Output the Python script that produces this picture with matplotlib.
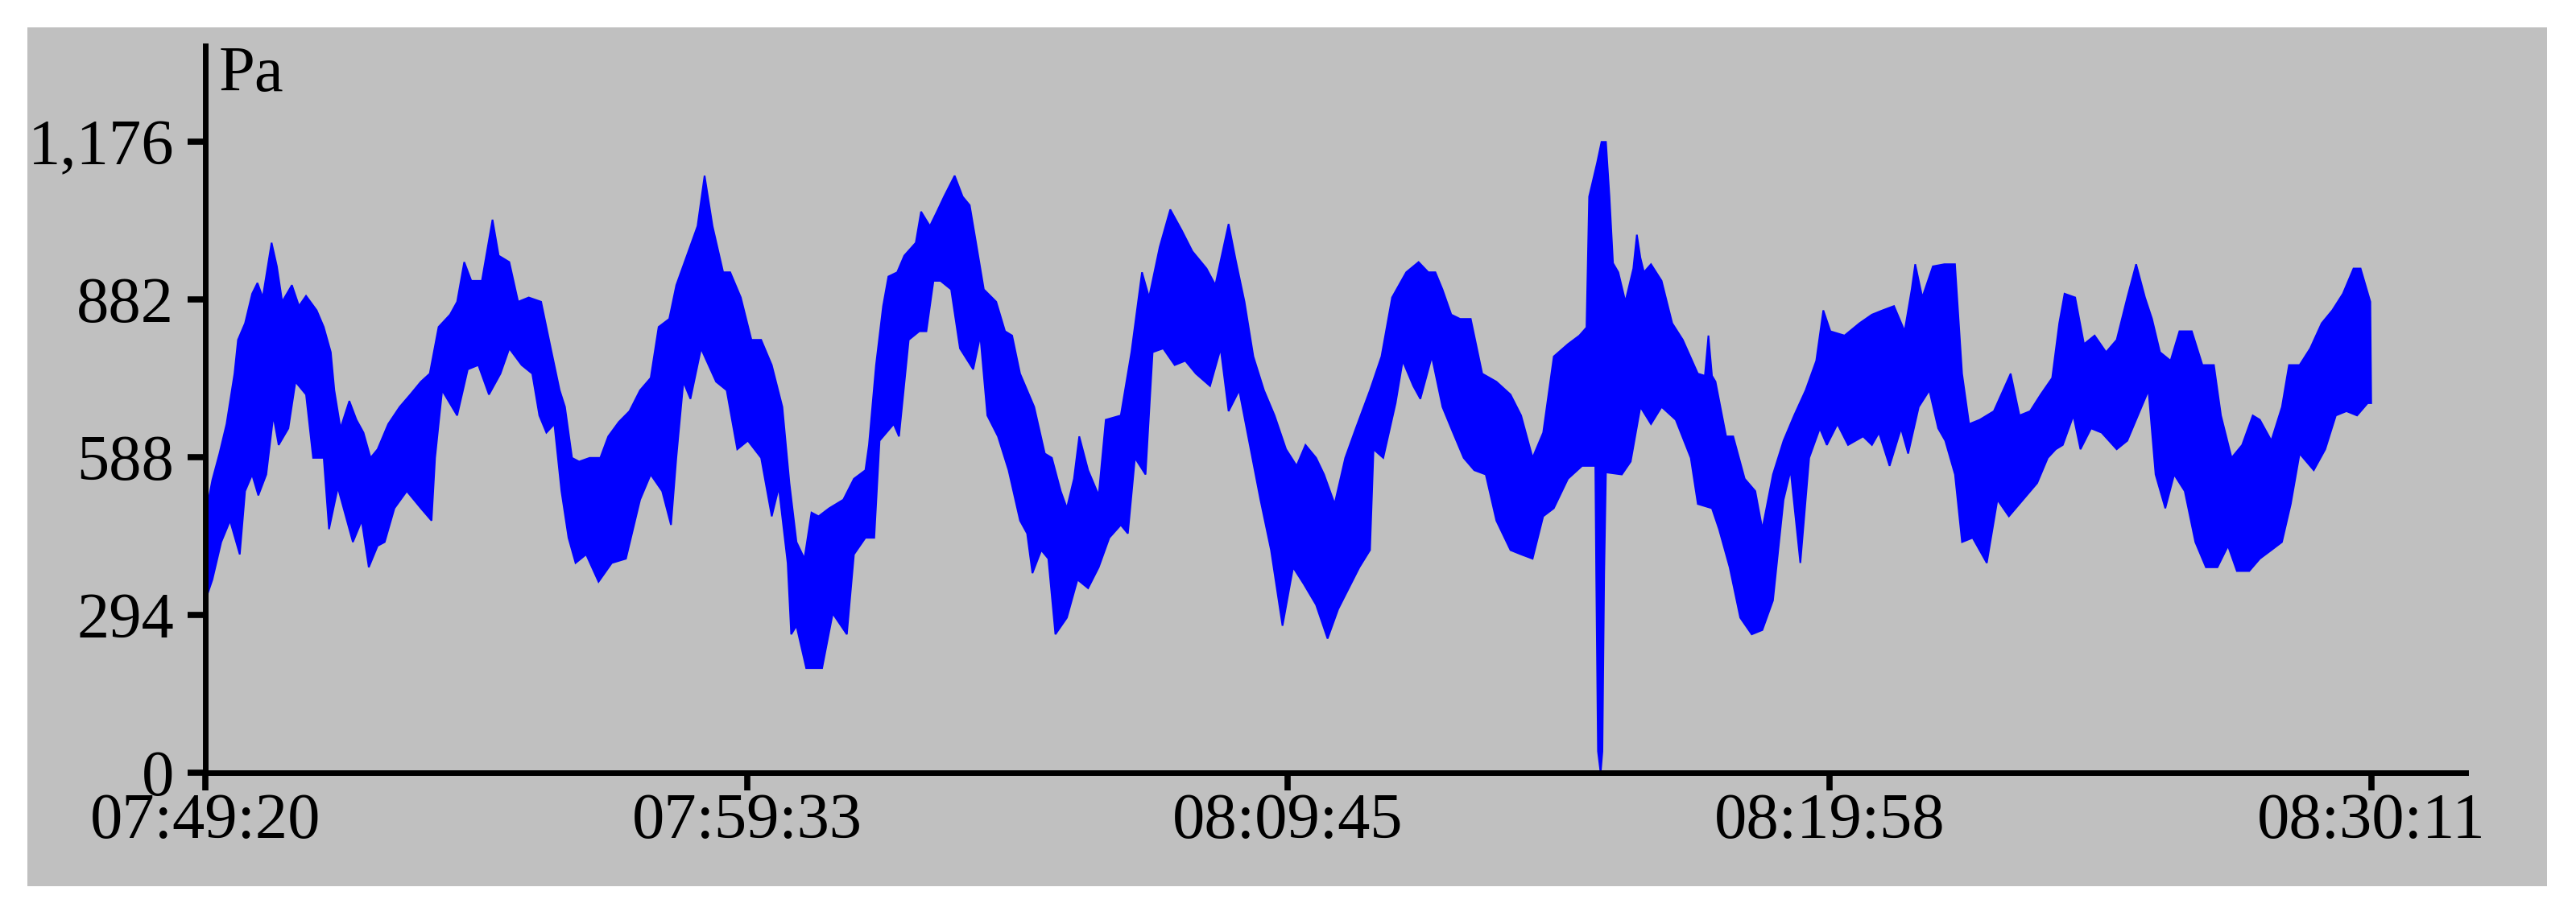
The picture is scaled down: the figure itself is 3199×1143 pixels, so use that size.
import numpy as np
import matplotlib
matplotlib.use('Agg')
import matplotlib.pyplot as plt
from matplotlib.patches import Rectangle

# ---- data: pressure band (Pa), time in s from 07:49:20 ----
upper_t = [0, 8, 16, 24, 33, 37, 45, 53, 59, 65, 75, 81, 87, 98, 106, 114, 126, 134, 142, 146,
           153, 163, 171, 179, 187, 195, 207, 220, 232, 244, 254, 264, 277, 285, 293, 301, 313,
           325, 332, 344, 354, 366, 380, 391, 401, 407, 415, 423, 435, 447, 456, 468, 480, 492,
           504, 513, 525, 533, 545, 557, 565, 574, 586, 594, 606, 618,
           629, 641, 653, 661, 669, 678, 686, 694, 706, 722, 734, 747, 751, 759, 767, 773, 783,
           791, 804, 810, 820, 828, 836, 848, 857, 865, 873, 881, 895, 905, 913, 922, 938, 950,
           958, 968, 975, 983, 989, 999, 1011, 1019, 1036, 1048, 1060, 1068, 1080, 1092, 1105,
           1117, 1133, 1143, 1158, 1166, 1176, 1186, 1198, 1210, 1223, 1235, 1245,
           1257, 1266, 1278, 1290, 1302, 1318, 1331, 1343, 1359, 1373, 1384, 1392, 1400, 1410,
           1420, 1432, 1445, 1461, 1477, 1489, 1502, 1514, 1526, 1542, 1555, 1563, 1566, 1575,
           1580, 1585, 1589, 1593, 1599, 1607, 1616, 1620, 1624, 1628, 1636, 1648, 1660, 1672,
           1689, 1697, 1701, 1705, 1709, 1721, 1729, 1742, 1754, 1762, 1774, 1786, 1798, 1811,
           1823, 1831, 1839, 1855, 1872,
           1886, 1898, 1911, 1923, 1931, 1935, 1943, 1955, 1968, 1980, 1988, 1996, 2008, 2024,
           2043, 2053, 2065, 2077, 2090, 2098, 2104, 2116, 2126, 2138, 2151, 2163, 2175, 2185,
           2195, 2203, 2212, 2224, 2234, 2248, 2260, 2273, 2281, 2293, 2305, 2317, 2325, 2338,
           2350, 2358, 2370, 2382, 2395, 2407, 2419, 2431, 2439, 2450]
upper_pa = [478, 546, 595, 650, 744, 807, 838, 893, 913, 886, 988, 944, 878, 909, 870, 889, 862,
            831, 784, 713, 642, 693, 658, 634, 587, 603, 650, 682, 705, 729, 744, 831, 854, 878,
            952, 917, 917, 1031, 964, 952, 878, 886, 878, 791, 713, 682, 587, 580, 587, 587, 627,
            654, 674, 713, 736, 831, 846, 909, 964, 1019, 1113, 1019, 933, 933, 886, 807,
            807, 760, 682, 540, 430, 399, 485, 478, 493, 509, 548, 564, 611, 760, 870, 925, 933,
            964, 988, 1046, 1019, 1046, 1074, 1113, 1074, 1058, 980, 901, 878, 823, 815, 744,
            682, 595, 587, 525, 493, 548, 627, 564, 517, 658, 666, 784, 933, 886, 980, 1050,
            1011, 972, 940, 909, 1023, 956, 878, 776, 713, 666, 603, 572, 611,
            587, 556, 501, 587, 642, 713, 776, 886, 933, 952, 933, 933, 901, 854, 846, 846, 744,
            729, 705, 666, 587, 634, 776, 799, 815, 830, 1074, 1137, 1176, 1176, 1074, 950, 933,
            878, 940, 1003, 960, 933, 948, 917, 838, 807, 744, 740, 815, 740, 729, 627, 627, 548,
            525, 454, 556, 619, 666, 713, 768, 862, 823, 815, 838,
            854, 862, 870, 823, 901, 948, 886, 944, 948, 948, 744, 650, 658, 674, 744, 666, 674,
            705, 736, 838, 893, 886, 799, 815, 784, 807, 886, 948, 886, 846, 784, 768, 823, 823,
            760, 760, 666, 587, 611, 666, 658, 619, 682, 760, 760, 791, 838, 862, 893, 940, 940,
            878]

lower_t = [0, 8, 18, 28, 39, 45, 53, 60, 69, 77, 83, 94, 102, 114, 122, 134, 140, 150, 167, 177,
           185, 195, 203, 214, 228, 244, 256, 260, 268, 285, 297, 309, 321, 334, 344, 358, 370,
           378, 386, 395, 403, 411, 419, 431, 445, 460, 476, 492, 504, 517, 527, 533, 541, 549,
           561, 578, 590, 602, 614,
           629, 641, 649, 659, 663, 669, 680, 690, 698, 710, 726, 734, 747, 757, 763, 779, 785,
           796, 808, 816, 824, 832, 844, 854, 869, 877, 885, 897, 909, 922, 930, 936, 946, 954,
           962, 975, 987, 999, 1011, 1023, 1036, 1044, 1052, 1064, 1072, 1084, 1097, 1109, 1121,
           1137, 1149, 1158, 1170, 1182, 1194, 1206, 1219, 1231, 1243,
           1257, 1270, 1282, 1294, 1306, 1318, 1322, 1333, 1347, 1355, 1367, 1375, 1388, 1400,
           1412, 1424, 1436, 1449, 1461, 1477, 1489, 1502, 1514, 1526, 1542, 1558, 1573, 1574,
           1576, 1579, 1581, 1583, 1585, 1603, 1613, 1624, 1636, 1648, 1664, 1681, 1689, 1705,
           1713, 1725, 1737, 1750, 1762, 1774, 1786, 1794, 1805, 1815, 1827, 1835, 1847, 1859,
           1876,
           1886, 1894, 1906, 1919, 1927, 1939, 1951, 1961, 1969, 1980, 1988, 2000, 2016, 2028,
           2041, 2057, 2073, 2085, 2094, 2102, 2114, 2122, 2134, 2146, 2163, 2175, 2187, 2199,
           2207, 2218, 2228, 2240, 2252, 2264, 2277, 2289, 2299, 2313, 2325, 2338, 2350, 2360,
           2370, 2386, 2399, 2411, 2423, 2435, 2447, 2451]
lower_pa = [321, 360, 430, 470, 407, 525, 556, 517, 556, 666, 611, 642, 729, 705, 587, 587, 454,
            532, 430, 470, 383, 423, 430, 493, 525, 493, 470, 587, 713, 666, 752, 760, 705, 744,
            791, 760, 744, 666, 634, 650, 525, 438, 391, 407, 356, 391, 399, 509, 556, 525, 462,
            587, 729, 697, 791, 729, 713, 603, 619,
            587, 478, 532, 391, 258, 274, 195, 195, 195, 297, 258, 407, 438, 438, 619, 650, 627,
            807, 823, 823, 917, 917, 901, 791, 752, 815, 666, 627, 564, 470, 446, 372, 415, 399,
            258, 289, 360, 344, 383, 438, 462, 446, 587, 556, 784, 791, 760, 768, 744, 721, 791,
            674, 713, 611, 509, 415, 274, 383, 352,
            313, 250, 305, 344, 383, 415, 603, 587, 689, 768, 721, 697, 776, 682, 634, 587, 564,
            556, 470, 415, 407, 399, 478, 493, 548, 572, 572, 370, 40, 0, 40, 370, 560, 556, 580,
            682, 650, 682, 658, 587, 501, 493, 454, 383, 289, 258, 266, 321, 509, 564, 391, 587,
            642, 611, 650, 611, 627,
            611, 634, 572, 642, 595, 682, 713, 642, 619, 556, 430, 438, 391, 509, 478, 509, 540,
            587, 603, 611, 666, 603, 642, 634, 603, 619, 666, 713, 556, 493, 556, 525, 430, 383,
            383, 423, 376, 376, 399, 415, 430, 501, 595, 564, 603, 666, 674, 666, 689, 689]

y_ticks = [0, 294, 588, 882, 1176]
y_labels = ['0', '294', '588', '882', '1,176']
x_ticks = [0, 613, 1225, 1838, 2451]
x_labels = ['07:49:20', '07:59:33', '08:09:45', '08:19:58', '08:30:11']

plt.rcParams['font.family'] = ['Liberation Serif', 'DejaVu Serif']
FS = 58

fig = plt.figure(figsize=(31.99, 11.43), dpi=100, facecolor='white')
# grey panel behind everything
fig.patches.append(Rectangle((0.0106, 0.0367), 0.9781, 0.9335, transform=fig.transFigure,
                             facecolor='#c0c0c0', edgecolor='none', zorder=-10))

ax = fig.add_axes([0.0797, 0.1601, 0.8775, 0.79])
ax.set_facecolor('none')
ax.set_zorder(5)

# band outline: upper edge left->right, lower edge back right->left
poly_t = np.r_[upper_t, lower_t[::-1]]
poly_v = np.r_[upper_pa, lower_pa[::-1]]
ax.fill(poly_t, poly_v, color='#0000ff', linewidth=1.5, edgecolor='#0000ff')

ax.set_xlim(0, 2558)
ax.set_ylim(0, 1355)
ax.set_xticks(x_ticks, x_labels)
ax.set_yticks(y_ticks, y_labels)

for side in ('top', 'right'):
    ax.spines[side].set_visible(False)
for side in ('left', 'bottom'):
    ax.spines[side].set_linewidth(5)
    ax.spines[side].set_color('black')
ax.tick_params(axis='both', direction='out', length=16, width=5.5, colors='black',
               labelsize=FS)
ax.tick_params(axis='x', pad=2)
ax.tick_params(axis='y', pad=12)

fig.text(272 / 3199, 1 - 113 / 1143, 'Pa', fontsize=FS, va='baseline', ha='left', zorder=6)

fig.savefig('out.png', dpi=100, facecolor='white')
